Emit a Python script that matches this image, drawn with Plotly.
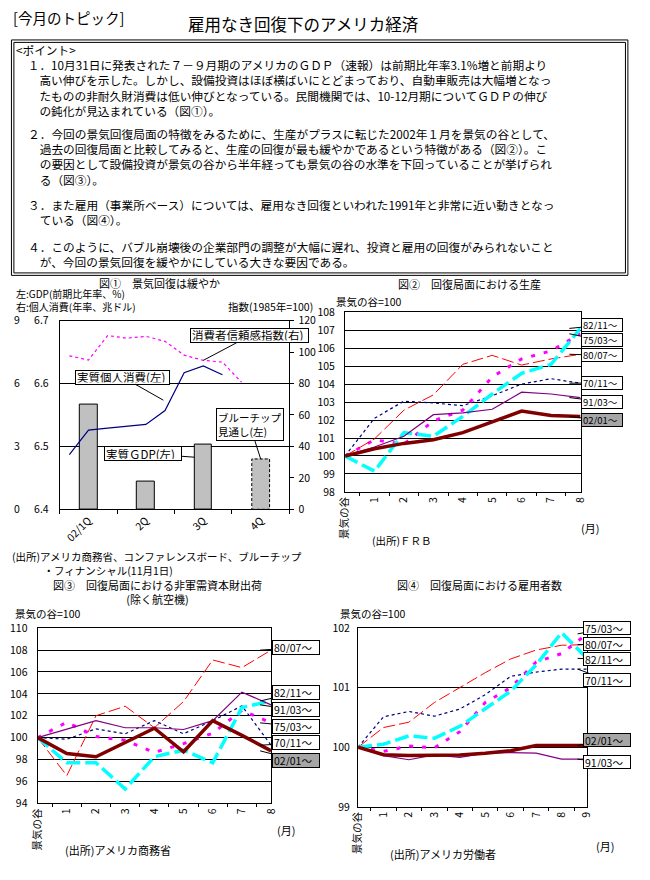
import plotly.graph_objects as go

W, H = 650, 880
FONT = "Noto Sans CJK JP"


def fx(x):
    return x / W


def fy(y):
    return 1 - y / H


# ---------------- data ----------------
# 図① 景気回復は緩やか
quarters = ["02/1Q", "2Q", "3Q", "4Q"]
real_gdp_growth = [5.0, 1.3, 3.1, 2.4]          # 4Q = ブルーチップ見通し
consumption_months = [1, 2, 3, 4, 5, 6, 7, 8, 9]
real_consumption = [6.487, 6.526, 6.529, 6.532, 6.535, 6.557, 6.617, 6.628, 6.614]
confidence_months = [1, 2, 3, 4, 5, 6, 7, 8, 9, 10]
consumer_confidence = [97.6, 94.9, 110.5, 108.8, 110.0, 106.8, 98.0, 94.7, 93.6, 80.8]
gdp_ticks = [0, 3, 6, 9]

# 図② 回復局面における生産
months_8 = ["景気の谷", "1", "2", "3", "4", "5", "6", "7", "8"]
prod_7011 = [100, 102.1, 103.05, 102.95, 102.8, 103.35, 104.0, 104.3, 104.05]
prod_7503 = [100, 100.9, 100.65, 101.95, 102.55, 104.4, 105.4, 105.85, 106.8]
prod_8007 = [100, 100.95, 102.55, 103.4, 105.1, 105.6, 105.06, 105.4, 105.66]
prod_8211 = [100, 99.15, 101.3, 101.1, 102.2, 103.45, 104.6, 105.1, 107.1]
prod_9103 = [100, 100.5, 101.1, 102.3, 102.4, 102.6, 103.55, 103.45, 103.25]
prod_0201 = [100, 100.4, 100.7, 100.9, 101.3, 101.9, 102.5, 102.25, 102.2]

# 図③ 回復局面における非軍需資本財出荷（除く航空機）
ship_7011 = [100, 99.85, 100.8, 100.35, 101.55, 100.35, 101.55, 102.9, 99.3]
ship_7503 = [100, 101.4, 100.1, 99.75, 98.65, 99.45, 100.4, 102.5, 101.35]
ship_8007 = [100, 96.52, 102.0, 102.87, 100.9, 103.3, 107.1, 106.4, 108.0]
ship_8211 = [100, 97.7, 97.7, 95.3, 98.25, 98.85, 97.7, 102.75, 103.35]
ship_9103 = [100, 100.8, 101.55, 100.9, 100.9, 100.74, 101.55, 104.16, 102.99]
ship_0201 = [100, 98.55, 98.25, 99.55, 100.86, 98.7, 101.55, 100.2, 98.79]

# 図④ 回復局面における雇用者数
months_9 = ["景気の谷", "1", "2", "3", "4", "5", "6", "7", "8", "9"]
emp_7011 = [100, 100.51, 100.6, 100.52, 100.64, 100.88, 101.19, 101.26, 101.31, 101.31]
emp_7503 = [100, 99.93, 100.02, 99.99, 100.26, 100.75, 101.0, 101.43, 101.57, 101.9]
emp_8007 = [100, 100.33, 100.42, 100.75, 101.0, 101.25, 101.48, 101.63, 101.71, 101.72]
emp_8211 = [100, 100.05, 100.19, 100.15, 100.35, 100.64, 100.94, 101.38, 101.92, 101.49]
emp_9103 = [100, 99.86, 99.79, 99.87, 99.83, 99.9, 99.91, 99.9, 99.8, 99.8]
emp_0201 = [100, 99.875, 99.86, 99.86, 99.87, 99.9, 99.94, 100.03, 100.03, 100.03]

series_names = ["70/11～", "75/03～", "80/07～", "82/11～", "91/03～", "02/01～"]

# ---------------- styles ----------------
STYLE = {
    "70/11～": dict(color="#000080", width=1.2, dash="3px,3px"),
    "75/03～": dict(color="#FF00FF", width=3, dash="4px,9px"),
    "80/07～": dict(color="#FF0000", width=1, dash="12px,4px"),
    "82/11～": dict(color="#00FFFF", width=3.5, dash="14px,5px"),
    "91/03～": dict(color="#800080", width=1.2),
    "02/01～": dict(color="#800000", width=3.5),
}

fig = go.Figure()
ann = []
shapes = []


def text(t, x, y, size=11, anchor="left"):
    ann.append(dict(xref="paper", yref="paper", x=fx(x), y=fy(y), text=t,
                    showarrow=False, xanchor=anchor, yanchor="middle", align="left",
                    font=dict(family=FONT, size=size, color="black")))


def callout(t, head, center, w, h, size=11, bg="white", align="left"):
    a = dict(xref="paper", yref="paper", x=fx(head[0]), y=fy(head[1]),
             ax=center[0] - head[0], ay=center[1] - head[1],
             axref="pixel", ayref="pixel", text=t, showarrow=True,
             arrowhead=0, arrowwidth=1, arrowcolor="black", standoff=0,
             bordercolor="black", borderwidth=1, borderpad=1, bgcolor=bg,
             align=align, valign="middle",
             font=dict(family=FONT, size=size, color="black"))
    if w is not None:
        a["width"] = w - 4
    if h is not None:
        a["height"] = h - 5
    ann.append(a)


# ---------------- header & points box ----------------
text("[今月のトピック]", 2, 10, size=14.5)
text("雇用なき回復下のアメリカ経済", 301, 16, size=16.5, anchor="center")
shapes.append(dict(type="rect", xref="paper", yref="paper", x0=fx(2.5), x1=fx(633.5),
                   y0=fy(272), y1=fy(32.5), line=dict(color="black", width=1)))
shapes.append(dict(type="rect", xref="paper", yref="paper", x0=fx(5), x1=fx(631),
                   y0=fy(269.5), y1=fy(35), line=dict(color="black", width=1)))

S = "　"
paragraphs = [
    (0, ["<ポイント>",
         S + "１．10月31日に発表された７－９月期のアメリカのＧＤＰ（速報）は前期比年率3.1%増と前期より",
         S + S + "高い伸びを示した。しかし、設備投資はほぼ横ばいにとどまっており、自動車販売は大幅増となっ",
         S + S + "たものの非耐久財消費は低い伸びとなっている。民間機関では、10-12月期についてＧＤＰの伸び",
         S + S + "の鈍化が見込まれている（図①）。"], 5),
    (6, ["２．今回の景気回復局面の特徴をみるために、生産がプラスに転じた2002年１月を景気の谷として、",
         S + "過去の回復局面と比較してみると、生産の回復が最も緩やかであるという特徴がある（図②）。こ",
         S + "の要因として設備投資が景気の谷から半年経っても景気の谷の水準を下回っていることが挙げられ",
         S + "る（図③）。"], 17),
    (11, ["３．また雇用（事業所ベース）については、雇用なき回復といわれた1991年と非常に近い動きとなっ",
          S + "ている（図④）。"], 17),
    (14, ["４．このように、バブル崩壊後の企業部門の調整が大幅に遅れ、投資と雇用の回復がみられないこと",
          S + "が、今回の景気回復を緩やかにしている大きな要因である。"], 17),
]
for start, lines, x in paragraphs:
    yc = 45.5 + (start + (len(lines) - 1) / 2) * 14.1
    text("<br>".join(lines), x, yc, size=11.7)

# ---------------- 図① ----------------
X1 = (52, 287)
Y1 = (318, 510)
bar_w = 0.31
q_pos = list(range(len(quarters)))
fig.add_trace(go.Bar(x=q_pos, y=real_gdp_growth, width=bar_w, xaxis="x", yaxis="y",
                     marker=dict(color="#C0C0C0",
                                 line=dict(color="black", width=[1, 1, 1, 0])),
                     showlegend=False, hoverinfo="skip"))
k_last = len(quarters) - 1
shapes.append(dict(type="rect", xref="x", yref="y", x0=q_pos[k_last] - bar_w / 2,
                   x1=q_pos[k_last] + bar_w / 2, y0=0, y1=real_gdp_growth[k_last],
                   line=dict(color="black", width=1, dash="3px,2px"), layer="above"))
cons_x = [(m - 2) / 3 for m in consumption_months]
conf_x = [(m - 2) / 3 for m in confidence_months]
fig.add_trace(go.Scatter(x=cons_x, y=real_consumption, mode="lines", xaxis="x", yaxis="y2",
                         line=dict(color="#000080", width=1.2), showlegend=False))
fig.add_trace(go.Scatter(x=conf_x, y=consumer_confidence, mode="lines", xaxis="x", yaxis="y3",
                         line=dict(color="#FF00FF", width=1.2, dash="3px,3px"), showlegend=False))

tickfont = dict(family=FONT, size=10.5, color="black")
fig.update_layout(
    xaxis=dict(domain=[fx(X1[0]), fx(X1[1])], anchor="y", range=[-0.5, 3.5],
               tickmode="array", tickvals=q_pos, ticktext=quarters, tickangle=-45,
               ticks="", showline=True, linecolor="black", mirror=True,
               showgrid=False, zeroline=False, tickfont=tickfont,
               minor=dict(tickmode="array", tickvals=[-0.5, 0.5, 1.5, 2.5, 3.5],
                          ticks="outside", ticklen=4, tickcolor="black", showgrid=False)),
    yaxis=dict(domain=[fy(Y1[1]), fy(Y1[0])], anchor="free", position=fx(11),
               range=[0, 9], tickmode="array", tickvals=gdp_ticks, showline=False,
               ticks="", showgrid=True, gridcolor="black", gridwidth=1, zeroline=False,
               tickfont=tickfont, ticklabelstandoff=0),
    yaxis2=dict(overlaying="y", anchor="x", side="left", range=[6.4, 6.7], dtick=0.1,
                tickformat=".1f", showline=True, linecolor="black", showgrid=False,
                ticks="", zeroline=False, tickfont=tickfont, ticklabelstandoff=8),
    yaxis3=dict(overlaying="y", anchor="x", side="right", range=[0, 120], dtick=20,
                showline=True, linecolor="black", showgrid=False, ticks="outside",
                ticklen=4, tickcolor="black", zeroline=False, tickfont=tickfont,
                ticklabelstandoff=2),
)


def c1x(v):
    return X1[0] + (v + 0.5) / 4 * (X1[1] - X1[0])


def c1y(v, lo, hi):
    return Y1[1] - (v - lo) / (hi - lo) * (Y1[1] - Y1[0])


text("図①　景気回復は緩やか", 154, 279.5, size=11, anchor="center")
text("左:GDP(前期比年率、%)<br>右:個人消費(年率、兆ドル)", 5, 297, size=10)
text("指数(1985年=100)", 222, 303.5, size=10.5)
text("(出所)アメリカ商務省、コンファレンスボード、ブルーチップ<br>" + S * 3 +
     "・フィナンシャル(11月1日)", 1, 565.5, size=10.5)

callout("消費者信頼感指数(右)", (c1x(conf_x[7]), c1y(consumer_confidence[7], 0, 120)),
        (245.5, 333.8), 119, 15.5, size=11.5)
callout("実質個人消費(左)", (158, 399), (117.5, 376), 95, 15.5, size=11.5)
callout("実質ＧDP(左)", (190, 457), (138, 453.2), 78, 16, size=11.5)
callout("ブルーチップ<br>見通し(左)", (c1x(q_pos[k_last]), c1y(real_gdp_growth[k_last], 0, 9)),
        (246.5, 424), None, None, size=10.5)

# ---------------- 図②〜④ ----------------
charts = [
    dict(n=2, X=(344, 585), Y=(309.5, 492.3), rng=(98, 108), dtick=1, cats=months_8,
         data=[prod_7011, prod_7503, prod_8007, prod_8211, prod_9103, prod_0201],
         boxes={"82/11～": 322.8, "75/03～": 338, "80/07～": 353.3, "70/11～": 381.5,
                "91/03～": 400.3, "02/01～": 419.5},
         bcx=606.3, bw=41.5, bh=14.5, bfs=9.5, standoff=7),
    dict(n=3, X=(29.3, 268.3), Y=(631, 809), rng=(94, 110), dtick=2, cats=months_8,
         data=[ship_7011, ship_7503, ship_8007, ship_8211, ship_9103, ship_0201],
         boxes={"80/07～": 651, "82/11～": 696.7, "91/03～": 714, "75/03～": 730.8,
                "70/11～": 747.7, "02/01～": 765},
         bcx=293.3, bw=48, bh=16, bfs=10.5, standoff=7),
    dict(n=4, X=(357.3, 591.7), Y=(630.7, 812.7), rng=(99, 102), dtick=1, cats=months_9,
         data=[emp_7011, emp_7503, emp_8007, emp_8211, emp_9103, emp_0201],
         boxes={"75/03～": 631.2, "80/07～": 646.7, "82/11～": 662.5, "70/11～": 683.2,
                "02/01～": 745, "91/03～": 767.5},
         bcx=611.2, bw=47.7, bh=15, bfs=10.5, standoff=5),
]

for ci, ch in enumerate(charts):
    xa = "x%d" % ch["n"]
    ya = "y%d" % (ch["n"] + 2)
    for name, vals in zip(series_names, ch["data"]):
        fig.add_trace(go.Scatter(x=ch["cats"], y=vals, mode="lines", xaxis=xa, yaxis=ya,
                                 line=STYLE[name], showlegend=False, name=name))
    fig.layout["xaxis%d" % ch["n"]] = dict(
        domain=[fx(ch["X"][0]), fx(ch["X"][1])], anchor=ya, type="category",
        tickson="boundaries", ticks="outside", ticklen=3, tickcolor="black",
        tickangle=-90, showline=True, linecolor="black", mirror=True,
        showgrid=False, zeroline=False, tickfont=tickfont)
    fig.layout["yaxis%d" % (ch["n"] + 2)] = dict(
        domain=[fy(ch["Y"][1]), fy(ch["Y"][0])], anchor=xa, range=list(ch["rng"]),
        dtick=ch["dtick"], showline=True, linecolor="black", mirror=True,
        showgrid=True, gridcolor="black", gridwidth=1, ticks="", zeroline=False,
        tickfont=tickfont, ticklabelstandoff=ch["standoff"])
    ncat = len(ch["cats"])
    lo, hi = ch["rng"]
    for name, vals in zip(series_names, ch["data"]):
        k = ncat - 1
        hxp = ch["X"][0] + (k + 0.5) * (ch["X"][1] - ch["X"][0]) / ncat
        hyp = ch["Y"][1] - (vals[k] - lo) / (hi - lo) * (ch["Y"][1] - ch["Y"][0])
        callout(name, (hxp + 2, hyp), (ch["bcx"], ch["boxes"][name]), ch["bw"], ch["bh"],
                size=ch["bfs"], bg="#A6A6A6" if name == "02/01～" else "white")

# chart texts
text("図②　回復局面における生産", 471, 281, size=11, anchor="center")
text("景気の谷=100", 333, 299, size=10.5)
text("(月)", 583, 529, size=11)
text("(出所)ＦＲＢ", 370, 542, size=10.5)

text("図③　回復局面における非軍需資本財出荷<br>(除く航空機)", 152.5, 594.5, size=11,
     anchor="center")
ann[-1]["align"] = "center"
text("景気の谷=100", 4, 616, size=10.5)
text("(月)", 272, 836, size=11)
text("(出所)アメリカ商務省", 55, 857, size=11)

text("図④　回復局面における雇用者数", 482, 587, size=11, anchor="center")
text("景気の谷=100", 337, 616, size=10.5)
text("(月)", 599, 853, size=11)
text("(出所)アメリカ労働者", 388, 861, size=11)

fig.update_layout(
    width=W, height=H, autosize=False,
    margin=dict(l=0, r=0, t=0, b=0, pad=0),
    paper_bgcolor="white", plot_bgcolor="white",
    font=dict(family=FONT, size=11, color="black"),
    annotations=ann, shapes=shapes, showlegend=False, bargap=0,
)

fig.write_html("out.html",
               config={"displayModeBar": False},
               post_script="document.body.style.margin='0';document.body.style.padding='0';")
